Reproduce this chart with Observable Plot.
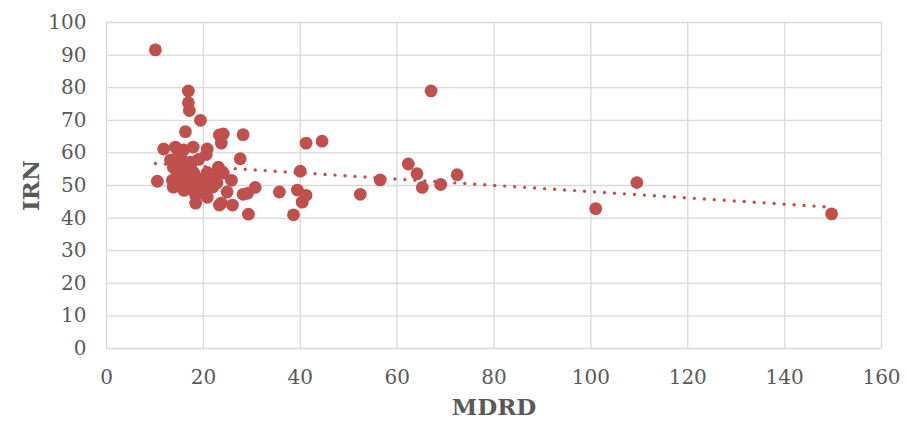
<!DOCTYPE html>
<html>
<head>
<meta charset="utf-8">
<script src="https://cdn.jsdelivr.net/npm/d3@7"></script>
<script src="https://cdn.jsdelivr.net/npm/@observablehq/plot@0.6"></script>
<style>
  html, body { margin: 0; padding: 0; background: #fff; }
  svg { display: block; }
  g[aria-label="x-axis label"] text, g[aria-label="y-axis label"] text {
    font-weight: bold; font-size: 23px; fill: #595959;
  }
</style>
</head>
<body>
<div id="chart"></div>
<script>
const mdrd = [
  10.1, 16.9, 16.9, 17.1, 19.4, 16.3, 23.3, 24.1, 23.7, 28.2,
  11.8, 14.8, 15.9, 17.9, 20.8, 20.6, 13.2, 15.3, 17.3, 27.6,
  23.1, 13.8, 15.5, 14.5, 16.5, 18.0, 20.8, 24.1, 21.9, 10.5,
  13.6, 15.9, 18.4, 19.8, 20.8, 22.8, 25.8, 13.8, 15.2, 16.0,
  17.9, 19.5, 21.9, 24.9, 18.4, 20.8, 18.4, 23.3, 23.7, 26.0,
  29.3, 28.2, 29.1, 30.7, 35.7, 38.6, 39.4, 40.0, 40.4, 41.2,
  41.2, 44.5, 52.4, 56.5, 62.3, 64.1, 65.2, 67.0, 69.0, 72.4,
  101.0, 109.5, 149.7, 14.5, 16.8, 17.2, 14.2, 16.0, 19.0
];
const irn = [
  91.6, 79.0, 75.4, 73.0, 70.0, 66.5, 65.5, 65.8, 63.0, 65.6,
  61.2, 60.5, 60.9, 61.8, 61.2, 59.5, 57.8, 58.7, 57.2, 58.2,
  55.6, 55.5, 54.5, 53.0, 56.0, 54.0, 54.0, 53.8, 53.0, 51.3,
  51.6, 51.6, 51.0, 52.0, 50.5, 50.8, 51.6, 49.5, 49.8, 48.5,
  48.6, 49.0, 49.5, 48.0, 47.0, 46.4, 44.6, 44.0, 44.6, 44.0,
  41.2, 47.3, 47.6, 49.4, 48.0, 41.0, 48.6, 54.4, 44.9, 47.0,
  63.0, 63.6, 47.3, 51.7, 56.6, 53.6, 49.4, 79.0, 50.3, 53.3,
  42.9, 50.9, 41.3, 57.0, 52.8, 50.0, 61.8, 56.5, 58.0
];
const xTicks = [0, 20, 40, 60, 80, 100, 120, 140, 160];
const yTicks = [0, 10, 20, 30, 40, 50, 60, 70, 80, 90, 100];
const xLabel = "MDRD";
const yLabel = "IRN";

const data = mdrd.map((x, i) => ({x, y: irn[i]}));
const red = "#C0504D";

const chart = Plot.plot({
  width: 907,
  height: 425,
  marginLeft: 106,
  marginRight: 26,
  marginTop: 22,
  marginBottom: 77,
  style: {fontFamily: "'DejaVu Serif', serif", fontSize: "20px", color: "#595959", background: "#fff"},
  x: {domain: [0, 160], ticks: xTicks, label: xLabel},
  y: {domain: [0, 100], ticks: yTicks, label: yLabel},
  marks: [
    Plot.gridX(xTicks, {stroke: "#d9d9d9", strokeOpacity: 1, strokeWidth: 1.3}),
    Plot.gridY(yTicks, {stroke: "#d9d9d9", strokeOpacity: 1, strokeWidth: 1.3}),
    Plot.axisX(xTicks, {tickSize: 0, tickPadding: 21, label: xLabel, labelAnchor: "center", labelArrow: "none", labelOffset: 66, fill: "#595959"}),
    Plot.axisY(yTicks, {tickSize: 0, tickPadding: 20, label: yLabel, labelAnchor: "center", labelArrow: "none", labelOffset: 84, fill: "#595959"}),
    Plot.dot(data, {x: "x", y: "y", r: 6.4, fill: red, stroke: "none"}),
    Plot.linearRegressionY(data, {x: "x", y: "y", ci: 0, stroke: red, strokeWidth: 3.4, strokeDasharray: "0 10", strokeLinecap: "round"})
  ]
});
document.getElementById("chart").appendChild(chart);
</script>
</body>
</html>
